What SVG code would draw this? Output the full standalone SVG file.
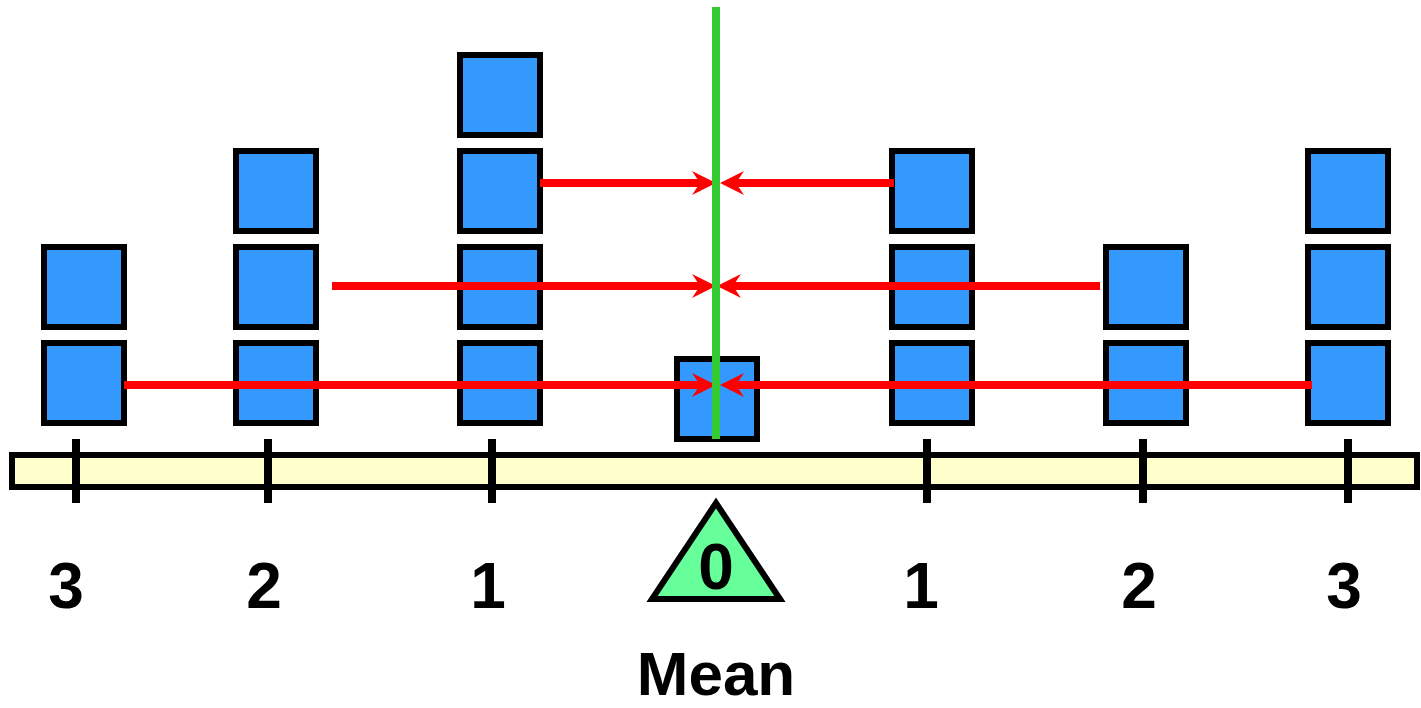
<svg xmlns="http://www.w3.org/2000/svg" width="1421" height="708" viewBox="0 0 1421 708">
<style>
.box{fill:#3399FF;stroke:#000;stroke-width:6}
.tick{stroke:#000;stroke-width:8}
.red{stroke:#FF0000;stroke-width:8;fill:none}
.num{font-family:"Liberation Sans",Arial,sans-serif;font-weight:bold;font-size:64px;fill:#000;text-anchor:middle}
</style>
<defs>
<marker id="ah" viewBox="0 0 24 24" refX="10" refY="12" markerWidth="24" markerHeight="24" markerUnits="userSpaceOnUse" orient="auto">
<path d="M0,0 L24,12 L0,24 L8,12 Z" fill="#FF0000"/>
</marker>
</defs>
<rect width="1421" height="708" fill="#fff"/>
<g id="ruler">
<rect x="12" y="455" width="1405" height="32" fill="#FFFFCC" stroke="#000" stroke-width="6"/>
<line class="tick" x1="76" y1="439" x2="76" y2="503"/>
<line class="tick" x1="268" y1="439" x2="268" y2="503"/>
<line class="tick" x1="492" y1="439" x2="492" y2="503"/>
<line class="tick" x1="927" y1="439" x2="927" y2="503"/>
<line class="tick" x1="1143" y1="439" x2="1143" y2="503"/>
<line class="tick" x1="1348" y1="439" x2="1348" y2="503"/>
</g>
<g id="col1">
<rect class="box" x="44" y="247" width="80" height="80"/>
<rect class="box" x="44" y="343" width="80" height="80"/>
</g>
<g id="col2">
<rect class="box" x="236" y="151" width="80" height="80"/>
<rect class="box" x="236" y="247" width="80" height="80"/>
<rect class="box" x="236" y="343" width="80" height="80"/>
</g>
<g id="col3">
<rect class="box" x="460" y="55" width="80" height="80"/>
<rect class="box" x="460" y="151" width="80" height="80"/>
<rect class="box" x="460" y="247" width="80" height="80"/>
<rect class="box" x="460" y="343" width="80" height="80"/>
</g>
<g id="center">
<rect class="box" x="677" y="359" width="80" height="80"/>
</g>
<g id="col5">
<rect class="box" x="892" y="151" width="80" height="80"/>
<rect class="box" x="892" y="247" width="80" height="80"/>
<rect class="box" x="892" y="343" width="80" height="80"/>
</g>
<g id="col6">
<rect class="box" x="1106" y="247" width="80" height="80"/>
<rect class="box" x="1106" y="343" width="80" height="80"/>
</g>
<g id="col7">
<rect class="box" x="1308" y="151" width="80" height="80"/>
<rect class="box" x="1308" y="247" width="80" height="80"/>
<rect class="box" x="1308" y="343" width="80" height="80"/>
</g>
<g id="connectors">
<line class="red" x1="540" y1="183" x2="702" y2="183" marker-end="url(#ah)"/>
<line class="red" x1="894" y1="183" x2="734" y2="183" marker-end="url(#ah)"/>
<line class="red" x1="332" y1="286" x2="702" y2="286" marker-end="url(#ah)"/>
<line class="red" x1="1100" y1="286" x2="731" y2="286" marker-end="url(#ah)"/>
<line class="red" x1="124" y1="385" x2="702" y2="385" marker-end="url(#ah)"/>
<line class="red" x1="1312" y1="385" x2="734" y2="385" marker-end="url(#ah)"/>
</g>
<g id="mean-line">
<line x1="716" y1="7" x2="716" y2="439" stroke="#33CC33" stroke-width="8"/>
</g>
<g id="fulcrum">
<polygon points="716,503 652,599 780,599" fill="#66FF99" stroke="#000" stroke-width="6" stroke-linejoin="miter"/>
<text class="num" x="716" y="589">0</text>
</g>
<g id="labels">
<text class="num" x="66" y="608">3</text>
<text class="num" x="264" y="608">2</text>
<text class="num" x="488" y="608">1</text>
<text class="num" x="921" y="608">1</text>
<text class="num" x="1139" y="608">2</text>
<text class="num" x="1344" y="608">3</text>
<text class="num" x="716" y="695" style="font-size:62px">Mean</text>
</g>
</svg>
